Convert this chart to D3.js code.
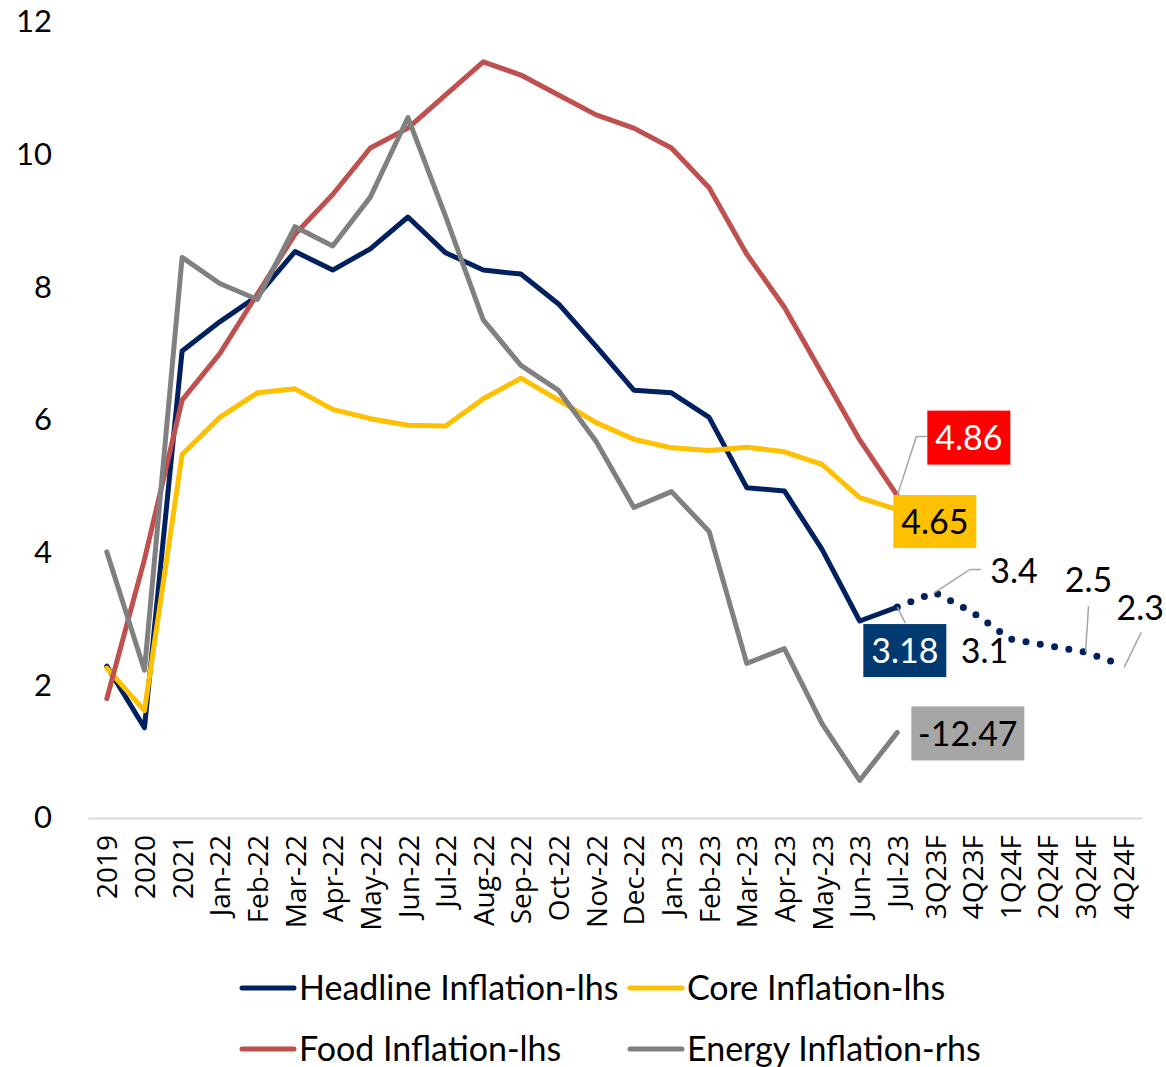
<!DOCTYPE html>
<html>
<head>
<meta charset="utf-8">
<script src="https://cdn.jsdelivr.net/npm/d3@7"></script>
<style>
  body { margin: 0; background: #fff; }
  svg { display: block; }
</style>
</head>
<body>
<svg width="1166" height="1067"></svg>
<script>
const categories = ['2019', '2020', '2021',
    'Jan-22', 'Feb-22', 'Mar-22', 'Apr-22', 'May-22', 'Jun-22', 'Jul-22', 'Aug-22', 'Sep-22', 'Oct-22', 'Nov-22', 'Dec-22',
    'Jan-23', 'Feb-23', 'Mar-23', 'Apr-23', 'May-23', 'Jun-23', 'Jul-23',
    '3Q23F', '4Q23F', '1Q24F', '2Q24F', '3Q24F', '4Q24F'];

const headline = [2.29, 1.36, 7.04, 7.48, 7.87, 8.54, 8.26, 8.58, 9.06, 8.52, 8.26, 8.20, 7.75, 7.11, 6.45, 6.41, 6.04, 4.98, 4.93, 4.05, 2.97, 3.18];
const core = [2.26, 1.62, 5.48, 6.04, 6.41, 6.47, 6.16, 6.02, 5.92, 5.91, 6.32, 6.63, 6.30, 5.96, 5.71, 5.58, 5.54, 5.59, 5.52, 5.33, 4.83, 4.65];
const food = [1.8, 3.9, 6.3, 7.0, 7.9, 8.8, 9.4, 10.1, 10.4, 10.9, 11.4, 11.2, 10.9, 10.6, 10.4, 10.1, 9.5, 8.5, 7.7, 6.7, 5.7, 4.86];
const energy = [3.4, -7.0, 29.3, 27.0, 25.6, 32.0, 30.3, 34.6, 41.6, 32.9, 23.8, 19.8, 17.6, 13.1, 7.3, 8.7, 5.2, -6.4, -5.1, -11.7, -16.7, -12.47];
// forecast starts at Jul-23
const forecastCats = ['Jul-23', '3Q23F', '4Q23F', '1Q24F', '2Q24F', '3Q24F', '4Q24F'];
const forecast = [3.18, 3.4, 3.1, 2.7, 2.6, 2.5, 2.3];

const yTicks = [0, 2, 4, 6, 8, 10, 12];

const svg = d3.select('svg');
const plot = { left: 88, right: 1142, top: 22, bottom: 818 };

// ---- Escalas
const x = d3.scalePoint().domain(categories).range([plot.left, plot.right]).padding(0.5);
const y = d3.scaleLinear().domain([0, 12]).range([plot.bottom, plot.top]);
const yRight = d3.scaleLinear().domain([-20, 50]).range([plot.bottom, plot.top]); // hidden rhs axis

const colors = { headline: '#002060', core: '#FFC000', food: '#C0504D', energy: '#808080' };

// ---- Eixos
const yAxis = d3.axisLeft(y).tickValues(yTicks).tickSize(0).tickPadding(36).tickFormat(d3.format('d'));
svg.append('g')
    .attr('transform', `translate(${plot.left}, 0)`)
    .call(yAxis)
    .call(g => g.select('.domain').remove())
    .selectAll('text')
    .attr('font-family', 'Lato, sans-serif')
    .attr('font-size', '31px')
    .attr('fill', '#000');

const xAxis = d3.axisBottom(x).tickSize(0).tickSizeOuter(0);
svg.append('g')
    .attr('transform', `translate(0, ${plot.bottom})`)
    .call(xAxis)
    .call(g => g.select('.domain').attr('stroke', '#D9D9D9').attr('stroke-width', 2))
    .selectAll('text')
    .attr('transform', 'rotate(-90)')
    .attr('text-anchor', 'end')
    .attr('x', -17)
    .attr('y', 0)
    .attr('dy', '0.36em')
    .attr('font-family', '"Open Sans", sans-serif')
    .attr('font-size', '28px')
    .attr('fill', '#000');

// ---- Linhas
const lineLeft = d3.line().x((d, i) => x(categories[i])).y(d => y(d));
const lineRight = d3.line().x((d, i) => x(categories[i])).y(d => yRight(d));

const series = [
    { key: 'headline', values: headline, line: lineLeft },
    { key: 'core', values: core, line: lineLeft },
    { key: 'food', values: food, line: lineLeft },
    { key: 'energy', values: energy, line: lineRight }
];

svg.append('g').selectAll('path')
    .data(series)
    .join('path')
    .attr('d', d => d.line(d.values))
    .attr('fill', 'none')
    .attr('stroke', d => colors[d.key])
    .attr('stroke-width', 5)
    .attr('stroke-linejoin', 'round')
    .attr('stroke-linecap', 'round');

const lineForecast = d3.line().x((d, i) => x(forecastCats[i])).y(d => y(d));
svg.append('path')
    .attr('d', lineForecast(forecast))
    .attr('fill', 'none')
    .attr('stroke', colors.headline)
    .attr('stroke-width', 7)
    .attr('stroke-linecap', 'round')
    .attr('stroke-dasharray', '0 14.5');

// ---- Rótulos
const last = categories.indexOf('Jul-23');
const boxLabels = [
    { text: '4.86', px: x('Jul-23'), py: y(food[last]), dx: 71.5, dy: -58, w: 83, h: 54, fill: '#FF0000', color: '#fff',
      leader: [[0, 0], [19, -59], [30, -59]] },
    { text: '4.65', px: x('Jul-23'), py: y(core[last]), dx: 37.5, dy: 12, w: 83, h: 53, fill: '#FFC000', color: '#000', leader: null },
    { text: '3.18', px: x('Jul-23'), py: y(headline[last]), dx: 7.5, dy: 43.5, w: 83, h: 53, fill: '#003A70', color: '#fff',
      leader: [[0, 0], [8, 16]] },
    { text: '-12.47', px: x('Jul-23'), py: yRight(energy[last]), dx: 70.5, dy: 1, w: 113, h: 54, fill: '#A6A6A6', color: '#000', leader: null }
];

const fcLabels = [
    { text: '3.4', cat: '3Q23F', v: 3.4, dx: 79, dy: -22, leader: [[0, 0], [35, -23], [46, -23]] },
    { text: '3.1', cat: '4Q23F', v: 3.1, dx: 12, dy: 38, leader: null },
    { text: '2.5', cat: '3Q24F', v: 2.5, dx: 3, dy: -72, leader: [[0, 0], [3, -46]] },
    { text: '2.3', cat: '4Q24F', v: 2.3, dx: 17, dy: -58, leader: [[1, 2], [18, -33]] }
];

const leaderLine = d3.line();
const labelGroup = svg.append('g');

boxLabels.forEach(d => {
    if (d.leader) {
        labelGroup.append('path')
            .attr('d', leaderLine(d.leader.map(p => [d.px + p[0], d.py + p[1]])))
            .attr('fill', 'none')
            .attr('stroke', '#A6A6A6')
            .attr('stroke-width', 1.5);
    }
    const cx = d.px + d.dx, cy = d.py + d.dy;
    labelGroup.append('rect')
        .attr('x', cx - d.w / 2)
        .attr('y', cy - d.h / 2)
        .attr('width', d.w)
        .attr('height', d.h)
        .attr('fill', d.fill);
    labelGroup.append('text')
        .attr('x', cx)
        .attr('y', cy)
        .attr('dy', '0.36em')
        .attr('text-anchor', 'middle')
        .attr('font-family', 'Lato, sans-serif')
        .attr('font-size', '34px')
        .attr('fill', d.color)
        .text(d.text);
});

fcLabels.forEach(d => {
    const px = x(d.cat), py = y(d.v);
    if (d.leader) {
        labelGroup.append('path')
            .attr('d', leaderLine(d.leader.map(p => [px + p[0], py + p[1]])))
            .attr('fill', 'none')
            .attr('stroke', '#A6A6A6')
            .attr('stroke-width', 1.5);
    }
    labelGroup.append('text')
        .attr('x', px + d.dx)
        .attr('y', py + d.dy)
        .attr('dy', '0.36em')
        .attr('text-anchor', 'middle')
        .attr('font-family', 'Lato, sans-serif')
        .attr('font-size', '34px')
        .attr('fill', '#000')
        .text(d.text);
});

// ---- Legenda
const legendItems = [
    { key: 'headline', label: 'Headline Inflation-lhs', col: 0, row: 0 },
    { key: 'core', label: 'Core Inflation-lhs', col: 1, row: 0 },
    { key: 'food', label: 'Food Inflation-lhs', col: 0, row: 1 },
    { key: 'energy', label: 'Energy Inflation-rhs', col: 1, row: 1 }
];

const legend = svg.append('g').attr('id', 'legend');
const item = legend.selectAll('g')
    .data(legendItems)
    .join('g')
    .attr('transform', d => `translate(${242 + d.col * 388}, ${988 + d.row * 61})`);

item.append('line')
    .attr('x1', 0).attr('x2', 52)
    .attr('y1', 0).attr('y2', 0)
    .attr('stroke', d => colors[d.key])
    .attr('stroke-width', 5)
    .attr('stroke-linecap', 'round');

item.append('text')
    .attr('x', 57)
    .attr('y', 0)
    .attr('dy', '0.36em')
    .attr('font-family', 'Lato, sans-serif')
    .attr('font-size', '34px')
    .attr('fill', '#000')
    .text(d => d.label);
</script>
</body>
</html>
